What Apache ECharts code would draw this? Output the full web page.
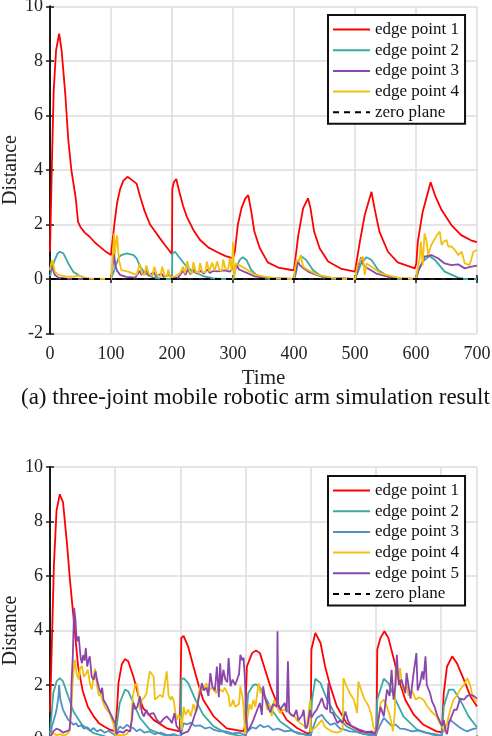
<!DOCTYPE html>
<html>
<head>
<meta charset="utf-8">
<script src="https://cdn.jsdelivr.net/npm/echarts@6/dist/echarts.min.js"></script>
<style>
html,body{margin:0;padding:0;background:#fff;overflow:hidden;}
#c{width:492px;height:736px;}
</style>
</head>
<body>
<div id="c"></div>
<script>
// ---------- data: top chart (three-joint arm), [time, distance] ----------
var topNames = ['edge point 1','edge point 2','edge point 3','edge point 4'];
var topRed = [[0,1.0],[3,4.1],[6,6.9],[10,8.4],[15,9.0],[19,8.4],[25,6.8],[30,5.1],[35,4.0],[42,3.0],[46,2.1],[50,1.9],[57,1.7],[65,1.55],[74,1.33],[82,1.18],[90,1.03],[100,0.88],
[100.5,1.0],[103,1.5],[106,2.1],[110,2.8],[115,3.3],[120,3.6],[127,3.75],[135,3.62],[142,3.5],[148,3.0],[155,2.5],[164,2.0],[172,1.75],[180,1.5],[190,1.2],[197,1.0],[200,0.9],
[200.5,3.3],[203,3.55],[207,3.67],[212,3.2],[218,2.7],[224,2.3],[235,1.8],[246,1.43],[260,1.15],[273,1.0],[287,0.85],[300,0.76],
[303,1.0],[308,2.0],[314,2.6],[320,2.95],[325,3.08],[330,2.47],[335,1.74],[344,1.13],[357,0.61],[374,0.42],[396,0.33],[400,0.33],
[401,0.35],[407,1.6],[415,2.6],[423,2.96],[427,2.6],[433,1.74],[442,1.13],[456,0.64],[478,0.37],[500,0.27],
[502,0.33],[508,1.37],[516,2.35],[527,3.2],[532,2.6],[540,1.74],[554,1.0],[570,0.61],[598,0.39],[600,0.45],
[600.5,0.57],[603,1.37],[611,2.47],[617,2.96],[624,3.55],[631,3.08],[642,2.53],[658,1.98],[674,1.61],[690,1.42],[700,1.35]];
var topTeal = [[0,0.1],[4,0.45],[8,0.7],[12,0.92],[16,1.0],[22,0.94],[30,0.57],[38,0.27],[49,0.11],[60,0.02],[70,0],[100,0],
[101,0.02],[105,0.3],[109,0.57],[113,0.8],[117,0.88],[126,0.94],[137,0.88],[142,0.76],[148,0.45],[156,0.2],[169,0.06],[186,0],[200,0],
[200.5,0.94],[205,1.0],[213,0.76],[224,0.45],[235,0.27],[251,0.11],[268,0.02],[281,0],[300,0],
[302,0.2],[305,0.4],[311,0.7],[316,0.8],[322,0.7],[330,0.33],[338,0.15],[352,0.02],[360,0],[400,0],
[402,0.1],[407,0.64],[412,0.84],[420,0.7],[431,0.33],[445,0.09],[455,0],[500,0],
[502,0.1],[505,0.27],[510,0.57],[519,0.8],[527,0.7],[538,0.33],[554,0.09],[565,0],[600,0],
[603,0.27],[611,0.64],[622,0.84],[631,0.7],[647,0.27],[669,0.05],[680,0],[700,0]];
var topPurple = [[0,0.3],[2,0.55],[4,0.4],[8,0.15],[14,0.05],[25,0.02],[40,0],[100,0],
[101,0.05],[104,0.7],[105,0.95],[107,0.5],[110,0.3],[115,0.15],[125,0.08],[140,0.05],[147,0.3],[150,0.15],[158,0.3],[162,0.12],[170,0.25],[174,0.1],[183,0.2],[186,0.08],[194,0.15],[200,0.05],
[210,0.05],[218,0.3],[222,0.15],[226,0.35],[230,0.18],[236,0.35],[240,0.2],[246,0.3],[252,0.2],[258,0.35],[262,0.22],[268,0.3],[274,0.28],[280,0.3],[286,0.32],[295,0.27],[298,0.35],[300,0.6],[302,0.2],[305,0.55],[310,0.35],[320,0.25],[335,0.1],[350,0.05],[380,0.02],[400,0],
[402,0.2],[406,0.65],[410,0.5],[415,0.4],[425,0.25],[440,0.12],[460,0.05],[500,0],
[502,0.15],[506,0.5],[510,0.8],[514,0.5],[520,0.4],[535,0.2],[555,0.08],[580,0.02],[600,0],
[604,0.3],[610,0.6],[614,0.82],[625,0.88],[636,0.76],[647,0.57],[658,0.51],[669,0.54],[680,0.39],[691,0.45],[700,0.49]];
var topYellow = [[0,0.33],[3,0.7],[5,0.57],[8,0.27],[14,0.15],[27,0.09],[40,0.09],[47,0.13],[52,0.08],[60,0.02],[100,0],
[101,0.1],[103,0.9],[105,1.68],[106.5,0.9],[108,1.3],[110,1.6],[113,0.7],[117,0.33],[128,0.27],[142,0.15],
[145,0.2],[147,0.55],[151,0.2],[155,0.15],[158,0.5],[162,0.18],[168,0.12],[171,0.45],[175,0.15],[181,0.1],[184,0.45],[188,0.12],[192,0.08],[194,0.35],[197,0.05],[200,0.02],
[205,0.1],[213,0.2],[216,0.2],[218,0.45],[221,0.2],[224,0.15],[225,0.65],[229,0.25],[233,0.2],[235,0.62],[239,0.25],[244,0.22],[246,0.58],[250,0.25],[255,0.25],[257,0.64],[261,0.28],[264,0.27],[266,0.6],[270,0.3],[272,0.3],[274,0.64],[278,0.32],[282,0.32],[284,0.72],[288,0.35],[292,0.35],[295,0.76],[298,0.3],[300,1.35],[302,0.02],[305,0.57],[311,0.5],[319,0.4],[336,0.15],[352,0.09],[370,0.03],[400,0],
[401,0.27],[404,0.7],[408,0.64],[411,0.88],[415,0.45],[423,0.33],[439,0.15],[461,0.05],[480,0.01],[500,0],
[501,0.1],[502,0.27],[505,0.57],[509,0.7],[513,0.82],[516,0.15],[519,0.57],[527,0.45],[543,0.2],[570,0.05],[590,0.01],[600,0.02],
[601,0.15],[606,0.76],[608,1.37],[611,0.5],[614,1.68],[617,1.43],[620,0.88],[625,1.25],[634,1.6],[639,1.74],[642,1.25],[645,1.37],[650,1.43],[653,1.19],[658,1.2],[664,1.06],[669,0.88],[675,1.0],[680,0.57],[688,0.51],[694,1.0],[700,1.06]];

// ---------- data: bottom chart, [time, distance] ----------
var botNames = ['edge point 1','edge point 2','edge point 3','edge point 4','edge point 5'];
var botRed = [[0,1.0],[2.6,3.3],[6,6.4],[10,8.4],[15,9.0],[20,8.7],[26,7.2],[31,5.75],[36,4.5],[43,2.7],[50,1.8],[58,1.2],[67,0.85],[75,0.6],[85,0.45],[92,0.36],[100,0.3],
[103,1.2],[105,2.07],[110,2.75],[115,2.95],[120,2.87],[128,2.3],[136,1.58],[143,1.15],[159,0.72],[179,0.41],[199,0.3],
[201,0.23],[201.5,3.73],[205,3.8],[212,3.4],[220,2.68],[228,2.0],[235,1.46],[251,0.85],[271,0.41],[297,0.3],
[299,0.5],[302,2.68],[310,3.17],[316,3.27],[322,3.17],[330,2.56],[338,1.95],[348,1.34],[363,0.72],[379,0.42],[394,0.23],[399,0.23],
[400,0.5],[401,3.3],[407,3.91],[415,3.54],[422,2.68],[430,1.95],[440,1.21],[455,0.6],[476,0.3],[499,0.23],
[501,0.5],[502,3.3],[507,3.73],[513,3.97],[519,3.73],[527,2.99],[535,2.19],[545,1.46],[558,0.91],[573,0.54],[593,0.3],[601,0.26],
[604,1.7],[609,2.68],[617,3.05],[624,2.81],[635,2.19],[645,1.58],[655,1.21]];
var botTeal = [[0,0.23],[5,1.7],[10,2.13],[15,2.25],[20,2.13],[28,1.58],[36,1.03],[49,0.54],[67,0.23],[87,0.1],[100,0.08],
[102,0.15],[107,1.34],[115,1.83],[120,1.77],[128,1.34],[138,0.79],[153,0.36],[174,0.17],[200,0.1],
[201,1.09],[201.5,2.2],[205,2.25],[212,2.07],[223,1.46],[235,0.91],[251,0.48],[271,0.23],[299,0.1],
[304,1.7],[312,2.0],[316,2.02],[322,1.92],[330,1.58],[340,1.09],[353,0.66],[374,0.3],[399,0.12],
[402,1.46],[407,2.23],[415,2.07],[425,1.46],[438,0.91],[455,0.48],[476,0.23],[500,0.1],
[502,1.46],[512,2.23],[519,2.07],[530,1.46],[542,0.85],[563,0.36],[588,0.17],[601,0.12],
[604,1.21],[612,1.83],[619,1.83],[629,1.46],[642,0.85],[655,0.45]];
var botBlue = [[0,0.1],[3,0.48],[8,0.9],[10,1.09],[13,1.58],[14,2.0],[16,1.46],[20,1.09],[24,0.9],[28,0.72],[32,0.65],[36,0.54],[40,0.6],[43,0.48],[48,0.52],[52,0.4],[57,0.45],[62,0.33],[67,0.42],[72,0.3],[78,0.36],[84,0.25],[90,0.32],[96,0.22],[100,0.15],
[103,0.2],[107,0.48],[112,0.4],[118,0.54],[123,0.45],[128,0.42],[133,0.3],[138,0.38],[145,0.25],[152,0.3],[160,0.2],[170,0.25],[180,0.15],[190,0.2],[200,0.1],
[202,0.3],[205,0.6],[210,0.55],[216,0.62],[222,0.5],[230,0.52],[238,0.4],[245,0.45],[252,0.35],[260,0.3],[270,0.3],[280,0.22],[290,0.25],[300,0.15],
[303,0.3],[310,0.45],[316,0.4],[322,0.54],[328,0.45],[335,0.5],[342,0.35],[350,0.4],[360,0.3],[370,0.33],[380,0.22],[390,0.2],[400,0.15],
[403,0.4],[409,0.79],[417,0.91],[423,0.7],[430,0.54],[437,0.6],[445,0.4],[452,0.36],[460,0.3],[470,0.28],[480,0.22],[490,0.2],[500,0.15],
[503,0.35],[508,0.6],[512,0.79],[518,0.65],[524,0.5],[530,0.55],[537,0.4],[545,0.38],[555,0.3],[565,0.33],[575,0.25],[590,0.2],[600,0.15],
[605,0.4],[610,0.6],[614,0.72],[620,0.6],[628,0.45],[635,0.35],[640,0.3],[648,0.38],[655,0.42]];
var botYellow = [[0,0.2],[5,0.25],[10,0.15],[15,0.2],[20,0.15],[25,0.18],[30,0.3],[33,1.2],[35,2.2],[38,2.93],[41,2.4],[44,2.2],[46,2.6],[49,2.7],[52,2.3],[55,2.4],[58,2.56],[61,2.1],[64,1.83],[67,2.3],[69,2.6],[72,2.0],[75,1.6],[78,1.7],[80,1.46],[84,1.2],[87,1.09],[91,1.0],[94,0.97],[97,0.6],[99,0.36],[100,0.17],
[102,0.1],[110,0.15],[118,0.2],[124,0.4],[127,1.6],[130,1.95],[133,2.07],[136,1.6],[138,1.09],[141,1.46],[145,1.55],[148,1.7],[151,2.2],[153,2.5],[156,2.4],[159,2.3],[161,1.46],[164,1.5],[169,1.64],[173,1.55],[176,1.6],[179,2.5],[182,1.6],[185,1.46],[187,1.58],[190,1.4],[192,1.46],[194,0.72],[197,0.9],[200,0.8],[202,0.36],
[205,1.2],[208,0.9],[212,1.1],[216,0.85],[220,1.3],[224,1.0],[227,1.46],[230,1.95],[233,1.8],[236,1.9],[240,2.07],[243,1.75],[247,1.9],[251,1.83],[255,1.7],[258,1.9],[261,1.85],[265,1.75],[268,1.9],[271,1.83],[274,1.6],[276,1.21],[279,1.3],[281,1.46],[284,1.2],[287,1.15],[290,1.3],[292,1.95],[295,1.6],[297,1.2],[299,0.2],
[301,0.2],[303,0.8],[306,1.3],[309,1.1],[312,1.46],[315,1.2],[318,1.7],[320,2.07],[323,1.7],[326,1.8],[330,1.58],[333,1.09],[336,1.3],[340,0.85],[344,1.46],[348,1.2],[353,0.97],[358,1.1],[363,1.09],[368,0.95],[374,0.9],[379,0.7],[384,0.6],[390,0.5],[394,0.42],[397,0.4],[399,1.46],[400,0.3],
[403,0.35],[409,0.48],[413,0.6],[417,0.72],[421,0.5],[425,0.4],[432,0.3],[440,0.25],[446,0.3],[449,0.4],[450,2.25],[455,1.95],[460,1.7],[466,1.46],[469,1.2],[471,0.97],[473,2.13],[477,1.83],[482,1.5],[489,1.21],[493,0.9],[496,0.48],[500,0.23],
[503,0.5],[507,1.34],[512,1.46],[517,1.21],[522,0.8],[526,0.3],[529,1.0],[530,2.62],[533,2.3],[535,2.19],[537,2.62],[540,2.0],[544,1.7],[547,2.07],[550,1.6],[555,1.8],[558,1.83],[561,1.46],[566,1.55],[573,1.46],[578,1.25],[583,1.09],[588,0.95],[593,0.85],[598,0.6],[601,0.48],[606,0.3],
[610,0.7],[614,1.09],[619,1.46],[624,1.6],[629,1.83],[635,2.0],[640,2.25],[643,2.1],[645,1.95],[648,1.6],[652,1.4],[655,1.45]];
var botPurple = [[0,0.05],[5,0.3],[10,0.4],[15,0.35],[20,0.25],[25,0.3],[30,0.35],[32,1.0],[33,2.07],[35,3.05],[37,4.83],[39,4.4],[41,3.6],[44,3.79],[47,3.0],[49,2.8],[51,3.1],[53,2.9],[55,3.36],[57,2.68],[59,2.9],[61,3.05],[64,2.3],[67,2.19],[70,2.5],[72,2.2],[75,1.9],[78,1.7],[80,1.9],[82,1.46],[85,1.5],[87,1.25],[90,1.1],[92,0.97],[95,0.85],[97,0.72],[100,0.6],
[102,0.2],[107,0.3],[112,0.25],[117,0.35],[123,0.3],[126,0.8],[128,1.34],[131,1.1],[134,1.2],[138,1.58],[141,1.0],[144,0.85],[148,1.09],[151,0.9],[155,0.95],[159,0.97],[164,0.72],[169,0.6],[174,0.75],[179,0.85],[184,0.72],[187,0.6],[191,0.97],[194,0.5],[197,0.45],[200,0.3],
[202,0.2],[207,0.25],[212,0.3],[218,0.6],[222,0.9],[225,1.09],[228,1.5],[230,1.7],[233,2.07],[236,1.8],[240,1.9],[243,1.6],[246,2.44],[249,1.95],[251,2.0],[253,1.8],[256,2.68],[259,1.55],[261,2.8],[263,2.0],[266,2.56],[269,2.2],[272,2.1],[274,2.99],[277,1.95],[280,2.2],[284,2.0],[287,2.2],[290,2.4],[292,3.11],[295,2.9],[297,3.0],[299,2.2],[301,0.8],[303,0.3],[306,0.25],[310,0.6],[314,0.85],[318,1.1],[322,1.34],[325,0.9],[327,1.95],[330,1.5],[333,1.3],[336,1.09],[338,1.0],[342,1.3],[345,1.3],[348,1.2],[349,3.97],[350,1.3],[353,1.1],[356,1.09],[360,1.34],[363,1.0],[365,2.87],[367,1.0],[370,0.9],[374,0.85],[378,1.09],[381,0.7],[384,0.72],[387,0.9],[389,1.09],[392,0.4],[395,0.5],[399,1.09],[401,0.8],
[405,0.97],[409,1.09],[413,1.3],[417,1.52],[421,1.2],[425,1.1],[427,2.07],[430,1.0],[434,0.97],[437,0.8],[441,0.6],[445,0.7],[449,0.6],[453,1.03],[457,0.7],[462,0.5],[467,0.45],[471,0.4],[476,0.35],[482,0.3],[488,0.28],[494,0.3],[498,0.2],[501,0.35],
[504,0.4],[507,1.2],[512,0.85],[517,1.83],[521,1.6],[524,2.56],[527,1.46],[530,2.0],[532,3.11],[535,2.0],[539,2.2],[542,2.19],[545,1.7],[547,2.44],[550,2.44],[553,1.5],[557,2.3],[560,2.3],[562,3.17],[564,1.8],[568,2.1],[571,2.5],[573,2.2],[576,3.05],[578,2.0],[583,1.7],[586,1.4],[590,1.2],[593,0.95],[596,1.0],[599,0.6],[602,0.5],[604,0.72],[607,0.3],[609,0.2],[612,0.6],[614,0.72],[620,1.1],[624,1.09],[629,1.5],[635,1.46],[640,1.6],[645,1.64],[650,1.6],[655,1.5]];

var zeroName = 'zero plane';
var yTicks = {min: -2, max: 10, step: 2};
var topX = {min: 0, max: 700, step: 100};
var botX = {min: 0, max: 655, step: 100};
var xTitle = 'Time';
var yTitle = 'Distance';
var caption = '(a) three-joint mobile robotic arm simulation result';

// ---------- styles ----------
var FONT = 'Liberation Serif';
var C = {red:'#FF0000', teal:'#3BA9A3', purple:'#8C45AC', yellow:'#F2C10F', blue:'#5290C4'};
var topColors = [C.red, C.teal, C.purple, C.yellow];
var botColors = [C.red, C.teal, C.blue, C.yellow, C.purple];
var AX = '#1a1a1a';
var SOLID_ICON = 'path://M0,0H37V2H0Z';
var DASH_ICON = 'path://M0,0H6V2H0Z M11,0H17V2H11Z M22,0H28V2H22Z M33,0H37V2H33Z';

function lineSeries(name, data, color, gi) {
  return {type:'line', name:name, data:data, xAxisIndex:gi*2, yAxisIndex:gi*2,
    symbol:'none', showSymbol:false, lineStyle:{color:color, width:1.8}, itemStyle:{color:color},
    emphasis:{disabled:true}, silent:true, animation:false};
}
function zeroSeries(xr, gi) {
  return {type:'line', name:zeroName, data:[[xr.min,0],[xr.max,0]], xAxisIndex:gi*2, yAxisIndex:gi*2,
    symbol:'none', lineStyle:{color:'#000', width:2, type:[6,5]}, itemStyle:{color:'#000'}, z:5, silent:true, animation:false};
}
function xAxes(xr, gi) {
  var main = {type:'value', gridIndex:gi, min:xr.min, max:xr.max, interval:xr.step, position:'bottom',
    axisLine:{show:true, lineStyle:{color:AX, width:2}}, axisTick:{show:true, inside:true, length:4, lineStyle:{color:AX, width:1.5}},
    axisLabel:{color:'#222', fontFamily:FONT, fontSize:18, margin:12},
    splitLine:{show:true, lineStyle:{color:'#dcdcdc', width:1.5}},
    name:xTitle, nameLocation:'middle', nameGap:34, nameMoveOverlap:false, nameTextStyle:{color:'#222', fontFamily:FONT, fontSize:21}};
  var top = {type:'value', gridIndex:gi, min:xr.min, max:xr.max, interval:xr.step, position:'top',
    axisLine:{show:true, lineStyle:{color:AX, width:2}}, axisTick:{show:true, inside:true, length:4, lineStyle:{color:AX, width:1.5}},
    axisLabel:{show:false}, splitLine:{show:false}};
  return [main, top];
}
function yAxes(gi) {
  var main = {type:'value', gridIndex:gi, min:yTicks.min, max:yTicks.max, interval:yTicks.step, position:'left',
    name:yTitle, nameLocation:'middle', nameGap:29, nameMoveOverlap:false, nameTextStyle:{color:'#222', fontFamily:FONT, fontSize:20},
    axisLine:{show:true, lineStyle:{color:AX, width:2}}, axisTick:{show:true, inside:true, length:4, lineStyle:{color:AX, width:1.5}},
    axisLabel:{color:'#222', fontFamily:FONT, fontSize:18, margin:7},
    splitLine:{show:true, lineStyle:{color:'#dcdcdc', width:1.5}}};
  var right = {type:'value', gridIndex:gi, min:yTicks.min, max:yTicks.max, interval:yTicks.step, position:'right',
    axisLine:{show:true, lineStyle:{color:AX, width:2}}, axisTick:{show:true, inside:true, length:4, lineStyle:{color:AX, width:1.5}},
    axisLabel:{show:false}, splitLine:{show:false}};
  return [main, right];
}
function legendFor(names, colors, top) {
  var data = names.map(function(n, i){ return {name:n, icon:SOLID_ICON, itemStyle:{color:colors[i], borderWidth:0}}; });
  data.push({name:zeroName, icon:DASH_ICON, itemStyle:{color:'#000', borderWidth:0}});
  return {orient:'vertical', left:328, top:top, itemWidth:37, itemHeight:12, itemGap:3.7,
    padding:[6,6,3,5], borderColor:'#111', borderWidth:2, backgroundColor:'#fff', borderRadius:0,
    textStyle:{fontFamily:FONT, fontSize:17, color:'#111', lineHeight:17}, selectedMode:false, data:data};
}

var series = [];
var topData = [topRed, topTeal, topPurple, topYellow];
topNames.forEach(function(n,i){ series.push(lineSeries(n, topData[i], topColors[i], 0)); });
series.push(zeroSeries(topX, 0));
var botData = [botRed, botTeal, botBlue, botYellow, botPurple];
botNames.forEach(function(n,i){ series.push(lineSeries(n, botData[i], botColors[i], 1)); });
series.push(zeroSeries(botX, 1));

var chart = echarts.init(document.getElementById('c'), null, {renderer:'canvas'});
chart.setOption({
  animation:false,
  backgroundColor:'#fff',
  grid:[{left:50, right:15, top:6.5, height:327, outerBoundsMode:'none', containLabel:false},
        {left:50, right:15, top:467, height:327, outerBoundsMode:'none', containLabel:false}],
  xAxis: xAxes(topX, 0).concat(xAxes(botX, 1)),
  yAxis: yAxes(0).concat(yAxes(1)),
  legend: [legendFor(topNames, topColors, 15), legendFor(botNames, botColors, 476)],
  graphic:[{type:'text', left:21, top:386, style:{text:caption, font:'23px "Liberation Serif"', fill:'#111'}}],
  series: series
});
</script>
</body>
</html>
